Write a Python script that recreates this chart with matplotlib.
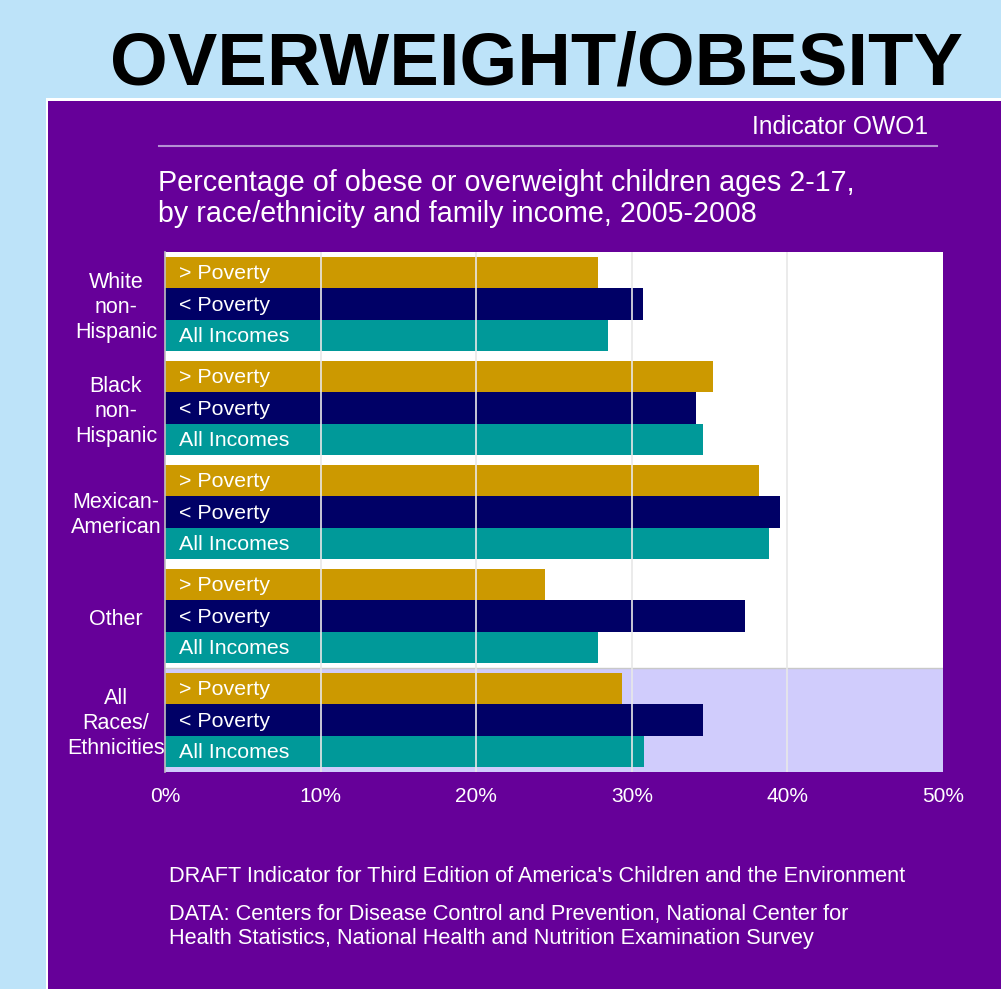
import matplotlib
matplotlib.use("Agg")
import matplotlib.pyplot as plt
from matplotlib.patches import Rectangle

plt.rcParams["font.family"] = ["Liberation Sans", "DejaVu Sans"]

groups = ["White\nnon-\nHispanic", "Black\nnon-\nHispanic", "Mexican-\nAmerican",
          "Other", "All\nRaces/\nEthnicities"]
series_names = ["> Poverty", "< Poverty", "All Incomes"]
above_poverty = [27.8, 35.2, 38.2, 24.4, 29.4]
below_poverty = [30.7, 34.1, 39.5, 37.3, 34.6]
all_incomes = [28.5, 34.6, 38.8, 27.8, 30.8]
xticks = [0, 10, 20, 30, 40, 50]

GOLD = "#cc9900"
NAVY = "#000066"
TEAL = "#009999"
PURPLE = "#660099"
LAVENDER = "#d0ccfc"
SKY = "#bde3f9"

W, H = 1001, 989
fig = plt.figure(figsize=(W / 100, H / 100), dpi=100)
fig.patch.set_facecolor(SKY)


def fx(px):
    return px / W


def fy(py):
    return 1 - py / H


# panel with white border
fig.patches.append(Rectangle((fx(46), 0), 1 - fx(46), fy(98), transform=fig.transFigure,
                             facecolor="white", edgecolor="none", zorder=-2))
fig.patches.append(Rectangle((fx(48), 0), 1 - fx(48), fy(101), transform=fig.transFigure,
                             facecolor=PURPLE, edgecolor="none", zorder=-1))

fig.text(fx(110), fy(85), "OVERWEIGHT/OBESITY", fontsize=53.5, fontweight="bold",
         color="black", va="baseline", ha="left")

fig.text(fx(928), fy(134), "Indicator OWO1", fontsize=17.7, color="white",
         ha="right", va="baseline")
fig.add_artist(plt.Line2D([fx(159), fx(937)], [fy(146), fy(146)], transform=fig.transFigure,
                          color="#b490d4", lw=1.5))

fig.text(fx(158), fy(191), "Percentage of obese or overweight children ages 2-17,",
         fontsize=20.6, color="white", va="baseline")
fig.text(fx(158), fy(222), "by race/ethnicity and family income, 2005-2008",
         fontsize=20.6, color="white", va="baseline")

ax = fig.add_axes([fx(165), fy(772), fx(943) - fx(165), fy(252) - fy(772)])
ax.set_zorder(1)
ax.set_facecolor("white")
ax.axhspan(3.5, 4.5, color=LAVENDER, zorder=0, lw=0)
ax.axhline(3.5, color="#c8c8c8", lw=1, zorder=0.5)

h = 0.3
ypos = list(range(len(groups)))
for vals, off, col, name in [(above_poverty, -h, GOLD, series_names[0]),
                             (below_poverty, 0, NAVY, series_names[1]),
                             (all_incomes, h, TEAL, series_names[2])]:
    ax.barh([y + off for y in ypos], vals, height=h, color=col, zorder=2, lw=0)
    for y in ypos:
        ax.text(0.9, y + off + 0.01, name, color="white", fontsize=15.4, va="center",
                ha="left", zorder=4)

for x in xticks[1:-1]:
    ax.axvline(x, color="#e8e8e8", lw=1.2, zorder=3)

for y, g in zip(ypos, groups):
    ax.text(-0.063, y + 0.03, g, transform=ax.get_yaxis_transform(), color="white",
            fontsize=15.5, ha="center", va="center", linespacing=1.25)

ax.set_xlim(0, 50)
ax.set_ylim(4.5, -0.5)
ax.set_yticks([])
ax.set_xticks(xticks)
ax.set_xticklabels([f"{x}%" for x in xticks])
ax.tick_params(axis="x", length=0, pad=11, labelsize=15, colors="white")
for s in ["top", "right", "bottom"]:
    ax.spines[s].set_visible(False)
ax.spines["left"].set_color("#c0c0c0")
ax.spines["left"].set_linewidth(1.2)

fig.text(fx(169), fy(882),
         "DRAFT Indicator for Third Edition of America's Children and the Environment",
         fontsize=15.7, color="white", va="baseline")
fig.text(fx(169), fy(920),
         "DATA: Centers for Disease Control and Prevention, National Center for",
         fontsize=15.7, color="white", va="baseline")
fig.text(fx(169), fy(944),
         "Health Statistics, National Health and Nutrition Examination Survey",
         fontsize=15.7, color="white", va="baseline")

fig.savefig("out.png", dpi=100, facecolor=fig.get_facecolor())
